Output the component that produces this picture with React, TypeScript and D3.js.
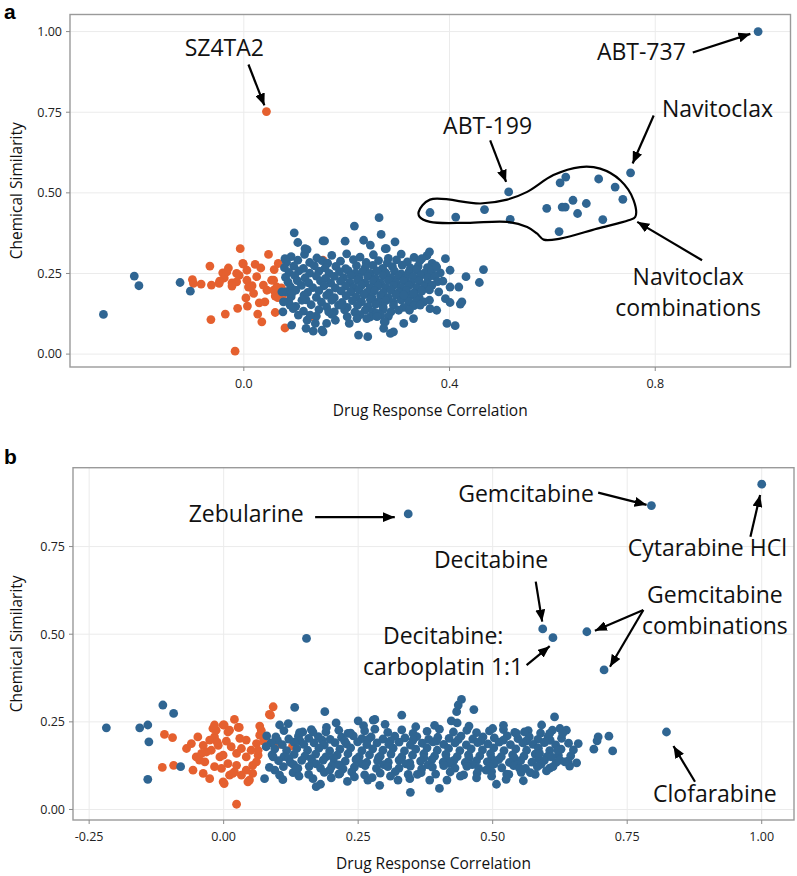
import React from "react";
import * as d3 from "d3";

type P = [number, number];

const BLUE = "#2f6592";
const ORANGE = "#e5602f";
const FONT = "'Open Sans', 'DejaVu Sans', sans-serif";

// ---------------- Panel a data ----------------
const aTicksX = [0, 0.4, 0.8];
const aTickLabelsX = ["0.0", "0.4", "0.8"];
const aTicksY = [0, 0.25, 0.5, 0.75, 1];
const aTickLabelsY = ["0.00", "0.25", "0.50", "0.75", "1.00"];

const aOrange: P[] = [
  [0.044, 0.752],
  [-0.066, 0.273], [-0.1, 0.231], [-0.098, 0.219], [-0.083, 0.217], [-0.063, 0.214], [-0.048, 0.219],
  [-0.041, 0.252], [-0.03, 0.267], [-0.038, 0.236], [-0.023, 0.221], [-0.009, 0.244], [-0.007, 0.327],
  [-0.001, 0.279], [0.006, 0.229], [0.004, 0.174], [0.007, 0.149], [-0.012, 0.142], [-0.036, 0.124],
  [-0.064, 0.107], [-0.017, 0.009], [0.022, 0.278], [0.033, 0.267], [0.025, 0.24], [0.016, 0.212],
  [0.038, 0.214], [0.048, 0.309], [0.059, 0.262], [0.067, 0.281], [0.045, 0.198], [0.058, 0.198],
  [0.061, 0.18], [0.071, 0.188], [0.03, 0.159], [0.041, 0.162], [0.027, 0.124], [0.035, 0.1],
  [0.061, 0.129], [0.08, 0.081], [0.132, 0.116], [-0.014, 0.224], [0.009, 0.208], [0.054, 0.229],
  [0.064, 0.208], [0.019, 0.188], [-0.047, 0.226], [-0.033, 0.255], [-0.023, 0.211], [-0.014, 0.25],
  [-0.002, 0.281], [0.006, 0.26], [0.014, 0.207], [0.058, 0.229], [0.068, 0.195], [0.073, 0.205],
  [0.066, 0.175], [0.075, 0.178], [0.154, 0.291],
];

const aBlue: P[] = [
  // left outliers
  [-0.273, 0.123], [-0.213, 0.242], [-0.204, 0.212], [-0.124, 0.222], [-0.104, 0.195],
  // main cloud
  [0.092, 0.302], [0.118, 0.309], [0.142, 0.298], [0.171, 0.306], [0.2, 0.311], [0.226, 0.301], [0.252, 0.308],
  [0.281, 0.297], [0.306, 0.31], [0.331, 0.3], [0.356, 0.305],
  [0.083, 0.285], [0.105, 0.291], [0.128, 0.284], [0.152, 0.29], [0.163, 0.282], [0.188, 0.288], [0.213, 0.293],
  [0.238, 0.284], [0.262, 0.29], [0.279, 0.283], [0.297, 0.292], [0.318, 0.286], [0.342, 0.289], [0.366, 0.281],
  [0.079, 0.268], [0.097, 0.273], [0.116, 0.266], [0.137, 0.274], [0.158, 0.267], [0.179, 0.272], [0.198, 0.265],
  [0.219, 0.274], [0.236, 0.268], [0.251, 0.275], [0.27, 0.266], [0.289, 0.271], [0.308, 0.276], [0.324, 0.267],
  [0.339, 0.272], [0.357, 0.268], [0.373, 0.274],
  [0.088, 0.253], [0.107, 0.258], [0.128, 0.251], [0.146, 0.257], [0.166, 0.25], [0.186, 0.256], [0.203, 0.259],
  [0.217, 0.251], [0.231, 0.256], [0.246, 0.25], [0.259, 0.258], [0.276, 0.252], [0.293, 0.257], [0.306, 0.249],
  [0.321, 0.255], [0.336, 0.26], [0.351, 0.251], [0.365, 0.257], [0.382, 0.252],
  [0.081, 0.238], [0.099, 0.243], [0.119, 0.236], [0.141, 0.242], [0.159, 0.235], [0.176, 0.241], [0.194, 0.237],
  [0.209, 0.244], [0.224, 0.236], [0.241, 0.241], [0.256, 0.235], [0.271, 0.243], [0.286, 0.237], [0.301, 0.242],
  [0.314, 0.235], [0.329, 0.24], [0.344, 0.244], [0.358, 0.236], [0.372, 0.241],
  [0.086, 0.223], [0.104, 0.228], [0.126, 0.221], [0.149, 0.227], [0.169, 0.22], [0.188, 0.226], [0.206, 0.222],
  [0.221, 0.229], [0.236, 0.221], [0.252, 0.226], [0.266, 0.22], [0.281, 0.228], [0.296, 0.222], [0.311, 0.227],
  [0.326, 0.221], [0.341, 0.226], [0.356, 0.22], [0.377, 0.225],
  [0.091, 0.208], [0.112, 0.213], [0.134, 0.206], [0.156, 0.212], [0.178, 0.205], [0.198, 0.211], [0.214, 0.207],
  [0.229, 0.214], [0.246, 0.206], [0.261, 0.211], [0.276, 0.205], [0.291, 0.213], [0.306, 0.207], [0.321, 0.212],
  [0.336, 0.205], [0.351, 0.21], [0.366, 0.214],
  [0.082, 0.193], [0.101, 0.198], [0.124, 0.191], [0.146, 0.197], [0.166, 0.19], [0.189, 0.196], [0.208, 0.192],
  [0.224, 0.199], [0.239, 0.191], [0.254, 0.196], [0.271, 0.19], [0.286, 0.198], [0.301, 0.192], [0.316, 0.197],
  [0.331, 0.19], [0.346, 0.195], [0.361, 0.199],
  [0.092, 0.178], [0.117, 0.183], [0.141, 0.176], [0.161, 0.182], [0.176, 0.175], [0.199, 0.181], [0.219, 0.177],
  [0.234, 0.184], [0.249, 0.176], [0.266, 0.181], [0.281, 0.175], [0.296, 0.183], [0.311, 0.177], [0.326, 0.182],
  [0.341, 0.175],
  [0.087, 0.163], [0.121, 0.168], [0.151, 0.161], [0.171, 0.167], [0.191, 0.16], [0.211, 0.166], [0.229, 0.162],
  [0.246, 0.169], [0.261, 0.161], [0.276, 0.166], [0.291, 0.16], [0.306, 0.168], [0.321, 0.162], [0.336, 0.167],
  [0.101, 0.148], [0.131, 0.153], [0.161, 0.146], [0.184, 0.152], [0.201, 0.145], [0.221, 0.151], [0.241, 0.147],
  [0.256, 0.154], [0.271, 0.146], [0.291, 0.151], [0.311, 0.145], [0.331, 0.15],
  [0.116, 0.133], [0.146, 0.138], [0.176, 0.131], [0.196, 0.137], [0.216, 0.13], [0.236, 0.136], [0.251, 0.132],
  [0.271, 0.139], [0.286, 0.131], [0.301, 0.136],
  [0.141, 0.118], [0.171, 0.123], [0.201, 0.116], [0.226, 0.122], [0.246, 0.115], [0.266, 0.121], [0.281, 0.117],
  // scattered around the cloud
  [0.098, 0.376], [0.105, 0.346], [0.123, 0.324], [0.157, 0.351], [0.197, 0.35], [0.215, 0.397], [0.263, 0.423],
  [0.233, 0.353], [0.246, 0.338], [0.277, 0.327], [0.267, 0.371], [0.294, 0.348], [0.275, 0.327], [0.361, 0.317],
  [0.346, 0.296], [0.392, 0.296], [0.375, 0.27], [0.401, 0.26], [0.432, 0.24], [0.466, 0.262], [0.458, 0.222],
  [0.387, 0.226], [0.401, 0.208], [0.418, 0.208], [0.379, 0.193], [0.392, 0.172], [0.401, 0.16], [0.424, 0.162],
  [0.421, 0.155], [0.361, 0.167], [0.35, 0.162], [0.375, 0.136], [0.362, 0.141], [0.343, 0.152], [0.33, 0.11],
  [0.311, 0.095], [0.291, 0.069], [0.275, 0.1], [0.395, 0.095], [0.411, 0.088], [0.259, 0.126], [0.322, 0.136],
  [0.311, 0.183], [0.33, 0.188], [0.093, 0.188], [0.09, 0.152], [0.096, 0.141], [0.113, 0.167], [0.106, 0.121],
  [0.123, 0.105], [0.129, 0.121], [0.093, 0.09], [0.135, 0.071], [0.154, 0.069], [0.139, 0.095], [0.161, 0.095],
  [0.178, 0.105], [0.165, 0.131], [0.191, 0.152], [0.205, 0.095], [0.22, 0.11], [0.223, 0.059], [0.241, 0.054],
  [0.239, 0.11], [0.259, 0.116], [0.273, 0.1], [0.272, 0.08], [0.285, 0.064], [0.121, 0.08], [0.152, 0.074],
  [0.076, 0.131], [0.077, 0.162], [0.074, 0.193], [0.08, 0.296], [0.119, 0.327], [0.154, 0.351],
  // navitoclax group and outliers
  [0.362, 0.439], [0.412, 0.425], [0.468, 0.448], [0.515, 0.503], [0.518, 0.418], [0.589, 0.452], [0.619, 0.456],
  [0.625, 0.456], [0.64, 0.477], [0.649, 0.436], [0.666, 0.467], [0.615, 0.531], [0.626, 0.549], [0.69, 0.543],
  [0.722, 0.518], [0.737, 0.48], [0.698, 0.417], [0.613, 0.38], [0.752, 0.562], [1.0, 1.0],
];

const aHull: P[] = [
  [0.34, 0.441], [0.362, 0.479], [0.46, 0.467], [0.512, 0.479], [0.551, 0.503], [0.602, 0.555], [0.654, 0.58],
  [0.693, 0.575], [0.732, 0.539], [0.758, 0.477], [0.761, 0.425], [0.748, 0.415], [0.687, 0.389], [0.615, 0.358],
  [0.583, 0.355], [0.57, 0.374], [0.551, 0.394], [0.512, 0.41], [0.434, 0.407], [0.362, 0.41], [0.342, 0.425],
];

const aLabels = [
  { lines: ["SZ4TA2"], x: -0.038, y: 0.923 },
  { lines: ["ABT-737"], x: 0.773, y: 0.911 },
  { lines: ["ABT-199"], x: 0.474, y: 0.684 },
  { lines: ["Navitoclax"], x: 0.921, y: 0.735 },
  { lines: ["Navitoclax", "combinations"], x: 0.864, y: 0.214 },
];
const aArrows: { from: P; to: P }[] = [
  { from: [0.009, 0.898], to: [0.04, 0.771] },
  { from: [0.873, 0.935], to: [0.985, 0.993] },
  { from: [0.479, 0.663], to: [0.51, 0.534] },
  { from: [0.797, 0.74], to: [0.756, 0.591] },
  { from: [0.891, 0.291], to: [0.765, 0.41] },
];

// ---------------- Panel b data ----------------
const bTicksX = [-0.25, 0, 0.25, 0.5, 0.75, 1];
const bTickLabelsX = ["-0.25", "0.00", "0.25", "0.50", "0.75", "1.00"];
const bTicksY = [0, 0.25, 0.5, 0.75];
const bTickLabelsY = ["0.00", "0.25", "0.50", "0.75"];

const bOrange: P[] = [
  [-0.11, 0.214], [-0.095, 0.205], [-0.114, 0.12], [-0.093, 0.126], [0.024, 0.015],
  [0.092, 0.293], [0.085, 0.271], [0.067, 0.238], [0.027, 0.234], [0.02, 0.257], [-0.001, 0.241], [-0.02, 0.231],
  [-0.017, 0.207], [0.008, 0.221], [-0.069, 0.174], [-0.06, 0.188], [-0.038, 0.183], [-0.032, 0.164],
  [-0.051, 0.15], [-0.057, 0.112], [-0.038, 0.103], [-0.026, 0.088], [-0.001, 0.079], [0.011, 0.098],
  [0.033, 0.098], [0.048, 0.084], [-0.007, 0.15], [0.008, 0.131], [0.024, 0.126], [0.024, 0.16], [0.042, 0.15],
  [0.054, 0.126], [0.064, 0.155], [0.061, 0.188], [0.067, 0.212], [0.042, 0.198], [0.03, 0.203], [-0.01, 0.183],
  [-0.026, 0.198], [-0.045, 0.141], [-0.004, 0.117], [0.042, 0.112], [0.054, 0.103], [-0.048, 0.207],
  [-0.023, 0.169], [0.014, 0.179], [0.033, 0.174], [0.051, 0.169], [0.064, 0.169], [-0.001, 0.155],
  [-0.035, 0.136], [-0.017, 0.122], [0.02, 0.107], [-0.041, 0.16], [-0.014, 0.226], [-0.017, 0.241],
  [0.001, 0.241], [0.011, 0.226], [0.029, 0.234], [0.087, 0.269], [0.017, 0.103], [0.001, 0.074],
  [0.045, 0.079], [0.061, 0.136], [0.103, 0.186], [0.128, 0.181], [0.074, 0.195], [0.07, 0.225], [0.005, 0.195],
  [-0.012, 0.192],
];

const bBlue: P[] = [
  // left outliers
  [-0.218, 0.233], [-0.156, 0.233], [-0.141, 0.241], [-0.139, 0.193], [-0.141, 0.086], [-0.113, 0.298],
  [-0.093, 0.274], [-0.08, 0.122],
  // main band
  [0.112, 0.225], [0.141, 0.219], [0.163, 0.228], [0.19, 0.221], [0.214, 0.226], [0.236, 0.218], [0.262, 0.224],
  [0.281, 0.229], [0.305, 0.22], [0.331, 0.227], [0.352, 0.217], [0.378, 0.223], [0.401, 0.229], [0.427, 0.221],
  [0.452, 0.226], [0.47, 0.219], [0.494, 0.224], [0.52, 0.228], [0.541, 0.22], [0.566, 0.225], [0.589, 0.218],
  [0.611, 0.226],
  [0.097, 0.207], [0.121, 0.201], [0.139, 0.209], [0.158, 0.203], [0.176, 0.208], [0.198, 0.2], [0.219, 0.206],
  [0.241, 0.21], [0.257, 0.202], [0.274, 0.207], [0.296, 0.201], [0.318, 0.209], [0.337, 0.204], [0.359, 0.208],
  [0.381, 0.2], [0.398, 0.206], [0.419, 0.203], [0.441, 0.209], [0.463, 0.201], [0.482, 0.207], [0.503, 0.204],
  [0.527, 0.21], [0.547, 0.202], [0.568, 0.207], [0.584, 0.2], [0.603, 0.208], [0.628, 0.203],
  [0.1, 0.197], [0.142, 0.196], [0.183, 0.198], [0.225, 0.195], [0.268, 0.199], [0.31, 0.196], [0.352, 0.198],
  [0.395, 0.195], [0.436, 0.199], [0.478, 0.196], [0.52, 0.198], [0.562, 0.195], [0.607, 0.197],
  [0.088, 0.19], [0.109, 0.185], [0.131, 0.192], [0.149, 0.186], [0.168, 0.19], [0.187, 0.184], [0.207, 0.191],
  [0.228, 0.187], [0.249, 0.193], [0.266, 0.185], [0.285, 0.19], [0.307, 0.186], [0.326, 0.192], [0.347, 0.184],
  [0.369, 0.189], [0.389, 0.193], [0.409, 0.186], [0.43, 0.19], [0.451, 0.184], [0.472, 0.191], [0.491, 0.187],
  [0.512, 0.192], [0.533, 0.185], [0.556, 0.19], [0.575, 0.186], [0.596, 0.191], [0.617, 0.184], [0.641, 0.189],
  [0.095, 0.173], [0.117, 0.168], [0.136, 0.174], [0.156, 0.169], [0.177, 0.175], [0.197, 0.167], [0.216, 0.172],
  [0.236, 0.176], [0.257, 0.168], [0.277, 0.173], [0.296, 0.169], [0.315, 0.175], [0.336, 0.167], [0.357, 0.172],
  [0.378, 0.176], [0.397, 0.169], [0.418, 0.174], [0.439, 0.168], [0.46, 0.173], [0.481, 0.17], [0.502, 0.176],
  [0.521, 0.168], [0.543, 0.173], [0.563, 0.169], [0.585, 0.175], [0.606, 0.168], [0.627, 0.172], [0.65, 0.17],
  [0.09, 0.156], [0.112, 0.151], [0.131, 0.157], [0.151, 0.152], [0.171, 0.158], [0.19, 0.15], [0.211, 0.155],
  [0.231, 0.159], [0.252, 0.151], [0.271, 0.156], [0.291, 0.152], [0.311, 0.158], [0.331, 0.15], [0.351, 0.155],
  [0.372, 0.159], [0.392, 0.152], [0.413, 0.157], [0.434, 0.151], [0.455, 0.156], [0.476, 0.153], [0.496, 0.159],
  [0.516, 0.151], [0.537, 0.156], [0.558, 0.152], [0.579, 0.158], [0.601, 0.151], [0.622, 0.155], [0.645, 0.153],
  [0.121, 0.146], [0.163, 0.145], [0.204, 0.147], [0.247, 0.144], [0.288, 0.148], [0.33, 0.145], [0.372, 0.147],
  [0.414, 0.144], [0.456, 0.148], [0.498, 0.145], [0.54, 0.147], [0.585, 0.144],
  [0.102, 0.139], [0.124, 0.134], [0.145, 0.14], [0.165, 0.135], [0.185, 0.141], [0.205, 0.133], [0.226, 0.138],
  [0.246, 0.142], [0.266, 0.134], [0.286, 0.139], [0.306, 0.135], [0.326, 0.141], [0.346, 0.133], [0.366, 0.138],
  [0.387, 0.142], [0.408, 0.135], [0.428, 0.14], [0.449, 0.134], [0.47, 0.139], [0.49, 0.136], [0.511, 0.142],
  [0.531, 0.134], [0.552, 0.139], [0.573, 0.135], [0.596, 0.14], [0.618, 0.134], [0.64, 0.138],
  [0.13, 0.128], [0.172, 0.13], [0.214, 0.127], [0.256, 0.131], [0.297, 0.128], [0.339, 0.13], [0.38, 0.127],
  [0.42, 0.131], [0.462, 0.128], [0.503, 0.13], [0.545, 0.127], [0.59, 0.129],
  [0.111, 0.122], [0.138, 0.117], [0.159, 0.123], [0.18, 0.118], [0.201, 0.124], [0.222, 0.116], [0.243, 0.121],
  [0.263, 0.125], [0.284, 0.117], [0.305, 0.122], [0.326, 0.118], [0.347, 0.124], [0.368, 0.116], [0.388, 0.121],
  [0.409, 0.125], [0.43, 0.118], [0.452, 0.123], [0.474, 0.117], [0.495, 0.122], [0.517, 0.119], [0.539, 0.125],
  [0.561, 0.117], [0.583, 0.122], [0.606, 0.118],
  [0.129, 0.105], [0.158, 0.1], [0.187, 0.106], [0.214, 0.101], [0.238, 0.107], [0.262, 0.099], [0.291, 0.104],
  [0.319, 0.108], [0.343, 0.1], [0.367, 0.105], [0.394, 0.101], [0.421, 0.107], [0.446, 0.099], [0.471, 0.104],
  [0.498, 0.108], [0.526, 0.101], [0.553, 0.106], [0.579, 0.1],
  // scattered around the band
  [0.104, 0.241], [0.12, 0.245], [0.132, 0.291], [0.188, 0.279], [0.209, 0.247], [0.25, 0.253], [0.079, 0.179],
  [0.092, 0.15], [0.095, 0.112], [0.104, 0.098], [0.135, 0.117], [0.166, 0.088], [0.172, 0.065], [0.197, 0.112],
  [0.216, 0.103], [0.243, 0.093], [0.268, 0.084], [0.147, 0.221], [0.166, 0.221], [0.191, 0.234], [0.231, 0.217],
  [0.29, 0.069], [0.18, 0.072], [0.281, 0.257], [0.442, 0.314], [0.436, 0.298], [0.433, 0.279], [0.465, 0.285],
  [0.423, 0.253], [0.434, 0.247], [0.456, 0.238], [0.331, 0.269], [0.591, 0.241], [0.615, 0.264], [0.606, 0.217],
  [0.559, 0.221], [0.544, 0.217], [0.347, 0.049], [0.401, 0.06], [0.415, 0.084], [0.507, 0.072], [0.525, 0.086],
  [0.557, 0.082], [0.498, 0.095], [0.276, 0.091], [0.346, 0.088], [0.383, 0.084], [0.488, 0.112], [0.625, 0.231],
  [0.637, 0.226], [0.63, 0.217], [0.659, 0.188], [0.696, 0.207], [0.694, 0.196], [0.716, 0.209], [0.688, 0.172],
  [0.723, 0.167], [0.621, 0.169], [0.597, 0.193], [0.609, 0.15], [0.625, 0.141], [0.643, 0.124], [0.656, 0.133],
  [0.612, 0.122], [0.634, 0.136], [0.587, 0.16], [0.324, 0.084], [0.55, 0.117], [0.076, 0.088], [0.154, 0.488],
  [0.278, 0.255], [0.357, 0.236], [0.392, 0.24], [0.52, 0.24], [0.5, 0.231], [0.26, 0.239], [0.3, 0.243],
  [0.08, 0.21], [0.085, 0.12], [0.11, 0.085], [0.14, 0.095], [0.2, 0.09], [0.23, 0.08], [0.31, 0.095],
  [0.36, 0.1], [0.44, 0.095], [0.47, 0.09], [0.53, 0.1], [0.57, 0.105], [0.6, 0.11],
  // labelled compounds
  [0.343, 0.843], [0.795, 0.867], [1.0, 0.928], [0.593, 0.515], [0.612, 0.49], [0.675, 0.507], [0.707, 0.398],
  [0.823, 0.221],
];

const bLabels = [
  { lines: ["Zebularine"], x: 0.042, y: 0.821 },
  { lines: ["Gemcitabine"], x: 0.562, y: 0.878 },
  { lines: ["Cytarabine HCl"], x: 0.899, y: 0.723 },
  { lines: ["Decitabine"], x: 0.497, y: 0.69 },
  { lines: ["Decitabine:", "carboplatin 1:1"], x: 0.408, y: 0.472 },
  { lines: ["Gemcitabine", "combinations"], x: 0.913, y: 0.588 },
  { lines: ["Clofarabine"], x: 0.913, y: 0.022 },
];
const bArrows: { from: P; to: P }[] = [
  { from: [0.17, 0.834], to: [0.318, 0.834] },
  { from: [0.696, 0.904], to: [0.786, 0.869] },
  { from: [0.979, 0.778], to: [0.997, 0.897] },
  { from: [0.58, 0.65], to: [0.592, 0.536] },
  { from: [0.563, 0.412], to: [0.606, 0.466] },
  { from: [0.78, 0.569], to: [0.69, 0.51] },
  { from: [0.78, 0.569], to: [0.718, 0.407] },
  { from: [0.876, 0.079], to: [0.836, 0.181] },
];

type PanelProps = {
  letter: string;
  letterY: number;
  box: { left: number; right: number; top: number; bottom: number };
  xDomain: [number, number];
  yDomain: [number, number];
  ticksX: number[];
  tickLabelsX: string[];
  ticksY: number[];
  tickLabelsY: string[];
  orange: P[];
  blue: P[];
  hull?: P[];
  labels: { lines: string[]; x: number; y: number }[];
  arrows: { from: P; to: P }[];
  markerId: string;
};

function Panel(p: PanelProps) {
  const { left, right, top, bottom } = p.box;
  const x = d3.scaleLinear().domain(p.xDomain).range([left, right]);
  const y = d3.scaleLinear().domain(p.yDomain).range([bottom, top]);
  const r = 4.4;
  const hullPath = p.hull
    ? d3
        .line<P>()
        .x((d) => x(d[0]))
        .y((d) => y(d[1]))
        .curve(d3.curveCatmullRomClosed.alpha(0.5))(p.hull)
    : null;
  const cx = (left + right) / 2;
  const cy = (top + bottom) / 2;
  return (
    <g>
      <text x={4} y={p.letterY} fontFamily="'Liberation Sans', Arial, sans-serif" fontWeight="bold" fontSize={21} fill="#000">
        {p.letter}
      </text>
      <rect x={left} y={top} width={right - left} height={bottom - top} fill="#fff" />
      {p.ticksX.map((t, i) => (
        <line key={"gx" + i} x1={x(t)} x2={x(t)} y1={top} y2={bottom} stroke="#ebebeb" strokeWidth={1} />
      ))}
      {p.ticksY.map((t, i) => (
        <line key={"gy" + i} x1={left} x2={right} y1={y(t)} y2={y(t)} stroke="#ebebeb" strokeWidth={1} />
      ))}
      {p.orange.map((d, i) => (
        <circle key={"o" + i} cx={x(d[0])} cy={y(d[1])} r={r} fill={ORANGE} />
      ))}
      {p.blue.map((d, i) => (
        <circle key={"b" + i} cx={x(d[0])} cy={y(d[1])} r={r} fill={BLUE} />
      ))}
      {hullPath && <path d={hullPath} fill="none" stroke="#000" strokeWidth={2.2} />}
      {p.arrows.map((a, i) => (
        <line
          key={"a" + i}
          x1={x(a.from[0])}
          y1={y(a.from[1])}
          x2={x(a.to[0])}
          y2={y(a.to[1])}
          stroke="#000"
          strokeWidth={2.2}
          markerEnd={`url(#${p.markerId})`}
        />
      ))}
      {p.labels.map((l, i) => (
        <text key={"l" + i} x={x(l.x)} y={y(l.y)} textAnchor="middle" fontFamily={FONT} fontSize={23} fill="#111">
          {l.lines.map((ln, j) => (
            <tspan key={j} x={x(l.x)} dy={j === 0 ? 0 : 31}>
              {ln}
            </tspan>
          ))}
        </text>
      ))}
      <rect x={left} y={top} width={right - left} height={bottom - top} fill="none" stroke="#9a9a9a" strokeWidth={1.4} />
      {p.ticksX.map((t, i) => (
        <g key={"tx" + i}>
          <line x1={x(t)} x2={x(t)} y1={bottom} y2={bottom + 4} stroke="#8a8a8a" strokeWidth={1} />
          <text x={x(t)} y={bottom + 21} textAnchor="middle" fontFamily={FONT} fontSize={12.5} fill="#222">
            {p.tickLabelsX[i]}
          </text>
        </g>
      ))}
      {p.ticksY.map((t, i) => (
        <g key={"ty" + i}>
          <line x1={left - 4} x2={left} y1={y(t)} y2={y(t)} stroke="#8a8a8a" strokeWidth={1} />
          <text x={left - 8} y={y(t)} dy="0.35em" textAnchor="end" fontFamily={FONT} fontSize={12.5} fill="#222">
            {p.tickLabelsY[i]}
          </text>
        </g>
      ))}
      <text x={cx} y={bottom + 49} textAnchor="middle" fontFamily={FONT} fontSize={15.5} fill="#111">
        Drug Response Correlation
      </text>
      <text
        transform={`translate(22,${cy}) rotate(-90)`}
        textAnchor="middle"
        fontFamily={FONT}
        fontSize={15.5}
        fill="#111"
      >
        Chemical Similarity
      </text>
    </g>
  );
}

export default function App() {
  return (
    <svg
      width={797}
      height={876}
      viewBox="0 0 797 876"
      style={{ position: "absolute", left: 0, top: 0, background: "#fff" }}
    >
      <defs>
        {["ahA", "ahB"].map((id) => (
          <marker
            key={id}
            id={id}
            viewBox="0 0 12 10"
            refX={12}
            refY={5}
            markerWidth={12}
            markerHeight={10}
            markerUnits="userSpaceOnUse"
            orient="auto"
          >
            <path d="M0,0 L12,5 L0,10 Z" fill="#000" />
          </marker>
        ))}
      </defs>
      <rect width={797} height={876} fill="#fff" />
      <Panel
        letter="a"
        letterY={19}
        box={{ left: 70, right: 790.5, top: 14.5, bottom: 367 }}
        xDomain={[-0.338, 1.063]}
        yDomain={[-0.04, 1.053]}
        ticksX={aTicksX}
        tickLabelsX={aTickLabelsX}
        ticksY={aTicksY}
        tickLabelsY={aTickLabelsY}
        orange={aOrange}
        blue={aBlue}
        hull={aHull}
        labels={aLabels}
        arrows={aArrows}
        markerId="ahA"
      />
      <Panel
        letter="b"
        letterY={464}
        box={{ left: 73, right: 794, top: 467.7, bottom: 820 }}
        xDomain={[-0.28, 1.06]}
        yDomain={[-0.03, 0.975]}
        ticksX={bTicksX}
        tickLabelsX={bTickLabelsX}
        ticksY={bTicksY}
        tickLabelsY={bTickLabelsY}
        orange={bOrange}
        blue={bBlue}
        labels={bLabels}
        arrows={bArrows}
        markerId="ahB"
      />
    </svg>
  );
}
